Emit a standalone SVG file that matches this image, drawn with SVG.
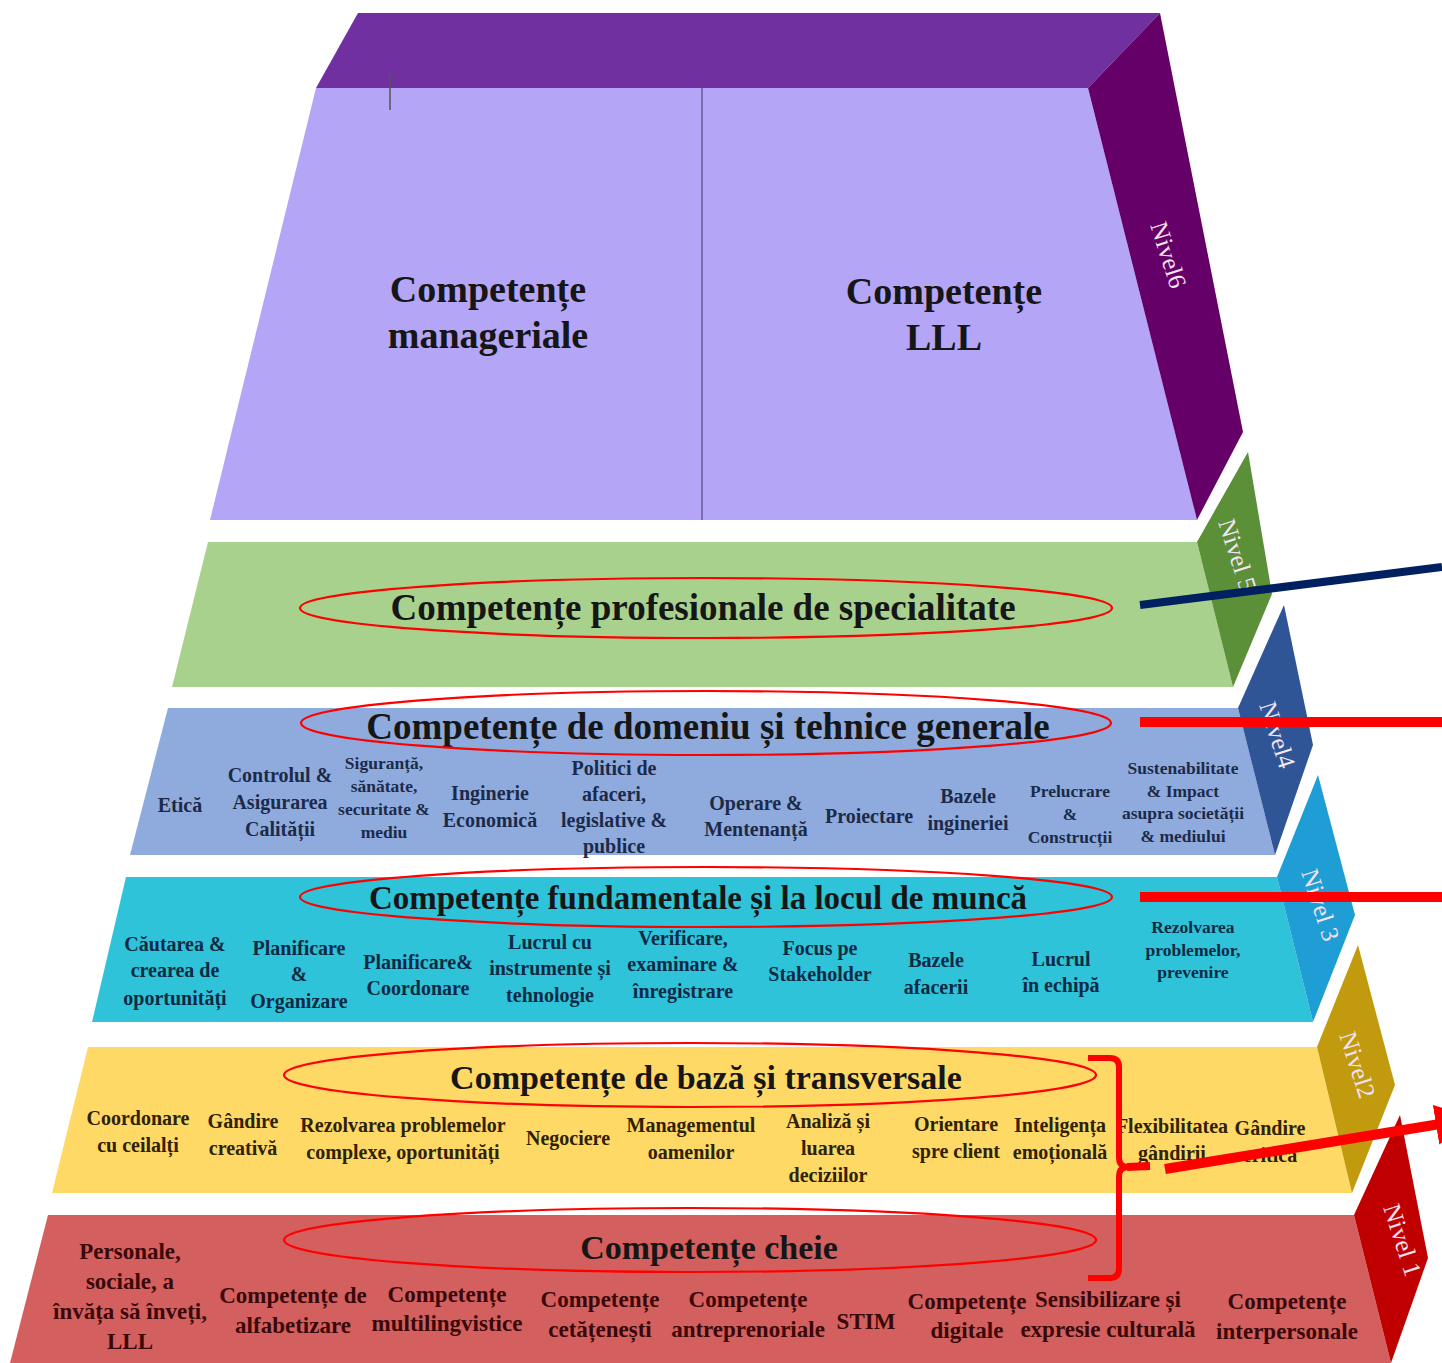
<svg xmlns="http://www.w3.org/2000/svg" width="1442" height="1363" viewBox="0 0 1442 1363">
<style>
text{font-family:"Liberation Serif","Times New Roman",serif;font-weight:bold;text-anchor:middle}
.t{fill:#161616}
.big{font-size:38px;fill:#161616}
.i{font-size:20px}
.s{font-size:17.5px}
.k{font-size:23px}
.n4{fill:#1c2a4a}
.n3{fill:#0d2a44}
.n2{fill:#2e2200}
.n1{fill:#3a0808}
.lv{font-family:"Liberation Serif",serif;font-weight:normal;font-size:25px;fill:#f3e3f3}
.ell{fill:none;stroke:#ff0000;stroke-width:2.2}
.red{stroke:#ff0000;stroke-width:10;fill:none}
</style>
<defs>
<marker id="ah" markerUnits="userSpaceOnUse" markerWidth="50" markerHeight="50" refX="4" refY="20" orient="auto">
<path d="M0,0 L40,20 L0,40 Z" fill="#ff0000"/>
</marker>
</defs>
<rect width="1442" height="1363" fill="#ffffff"/>

<g id="level6">
<polygon points="316,88 358,13 1160,13 1088,88" fill="#7030a0"/>
<polygon points="316,88 1088,88 1197,520 210,520" fill="#b4a5f6"/>
<polygon points="1088,88 1160,13 1243,432 1197,520" fill="#650068"/>
<line x1="702" y1="88" x2="702" y2="520" stroke="#6b5a99" stroke-width="1.5"/>
<line x1="390" y1="73" x2="390" y2="110" stroke="#555" stroke-width="1.5"/>
<text class="big" x="488" y="302">Competențe</text>
<text class="big" x="488" y="348">manageriale</text>
<text class="big" x="944" y="304">Competențe</text>
<text class="big" x="944" y="350">LLL</text>
<text class="lv" transform="translate(1168,255) rotate(72)" dy="8">Nivel6</text>
</g>

<g id="level5">
<polygon points="208,542 1197,542 1233,687 172,687" fill="#a9d18e"/>
<polygon points="1197,542 1248,452 1272,594 1233,687" fill="#5b8f38"/>
<text class="t" x="703" y="620" font-size="37">Competențe profesionale de specialitate</text>
<ellipse class="ell" cx="706" cy="608" rx="406" ry="30"/>
<text class="lv" transform="translate(1237,555) rotate(72)" dy="8">Nivel 5</text>
</g>

<g id="level4">
<polygon points="168,708 1238,708 1275,855 130,855" fill="#8faadc"/>
<polygon points="1238,708 1284,605 1313,745 1275,855" fill="#2f5597"/>
<text class="t" x="708" y="739" font-size="37">Competențe de domeniu și tehnice generale</text>
<ellipse class="ell" cx="706" cy="723" rx="405" ry="32"/>
<text class="lv" transform="translate(1277,735) rotate(72)" dy="8">Nivel4</text>
<text class="i n4" x="180" y="812">Etică</text>
<text class="i n4" x="280" y="782">Controlul &amp;</text>
<text class="i n4" x="280" y="809">Asigurarea</text>
<text class="i n4" x="280" y="836">Calității</text>
<text class="s n4" x="384" y="769">Siguranță,</text>
<text class="s n4" x="384" y="792">sănătate,</text>
<text class="s n4" x="384" y="815">securitate &amp;</text>
<text class="s n4" x="384" y="838">mediu</text>
<text class="i n4" x="490" y="800">Inginerie</text>
<text class="i n4" x="490" y="827">Economică</text>
<text class="i n4" x="614" y="775">Politici de</text>
<text class="i n4" x="614" y="801">afaceri,</text>
<text class="i n4" x="614" y="827">legislative &amp;</text>
<text class="i n4" x="614" y="853">publice</text>
<text class="i n4" x="756" y="810">Operare &amp;</text>
<text class="i n4" x="756" y="836">Mentenanță</text>
<text class="i n4" x="869" y="823">Proiectare</text>
<text class="i n4" x="968" y="803">Bazele</text>
<text class="i n4" x="968" y="830">ingineriei</text>
<text class="s n4" x="1070" y="797">Prelucrare</text>
<text class="s n4" x="1070" y="820">&amp;</text>
<text class="s n4" x="1070" y="843">Construcții</text>
<text class="s n4" x="1183" y="774">Sustenabilitate</text>
<text class="s n4" x="1183" y="797">&amp; Impact</text>
<text class="s n4" x="1183" y="819">asupra societății</text>
<text class="s n4" x="1183" y="842">&amp; mediului</text>
</g>

<g id="level3">
<polygon points="126,877 1277,877 1313,1022 92,1022" fill="#2ec3d9"/>
<polygon points="1277,877 1318,775 1355,915 1313,1022" fill="#1e9ed4"/>
<text class="t" x="698" y="909" font-size="33">Competențe fundamentale și la locul de muncă</text>
<ellipse class="ell" cx="706" cy="897" rx="406" ry="30"/>
<text class="lv" transform="translate(1320,905) rotate(72)" dy="8">Nivel 3</text>
<text class="i n3" x="175" y="951">Căutarea &amp;</text>
<text class="i n3" x="175" y="977">crearea de</text>
<text class="i n3" x="175" y="1005">oportunități</text>
<text class="i n3" x="299" y="955">Planificare</text>
<text class="i n3" x="299" y="981">&amp;</text>
<text class="i n3" x="299" y="1008">Organizare</text>
<text class="i n3" x="418" y="969">Planificare&amp;</text>
<text class="i n3" x="418" y="995">Coordonare</text>
<text class="i n3" x="550" y="949">Lucrul cu</text>
<text class="i n3" x="550" y="975">instrumente și</text>
<text class="i n3" x="550" y="1002">tehnologie</text>
<text class="i n3" x="683" y="945">Verificare,</text>
<text class="i n3" x="683" y="971">examinare &amp;</text>
<text class="i n3" x="683" y="998">înregistrare</text>
<text class="i n3" x="820" y="955">Focus pe</text>
<text class="i n3" x="820" y="981">Stakeholder</text>
<text class="i n3" x="936" y="967">Bazele</text>
<text class="i n3" x="936" y="994">afacerii</text>
<text class="i n3" x="1061" y="966">Lucrul</text>
<text class="i n3" x="1061" y="992">în echipă</text>
<text class="s n3" x="1193" y="933">Rezolvarea</text>
<text class="s n3" x="1193" y="956">problemelor,</text>
<text class="s n3" x="1193" y="978">prevenire</text>
</g>

<g id="level2">
<polygon points="88,1047 1317,1047 1352,1193 52,1193" fill="#ffd966"/>
<polygon points="1317,1047 1358,945 1395,1085 1352,1193" fill="#c29a0e"/>
<text class="t" x="706" y="1089" font-size="34">Competențe de bază și transversale</text>
<ellipse class="ell" cx="690" cy="1075" rx="406" ry="32"/>
<text class="lv" transform="translate(1357,1065) rotate(72)" dy="8">Nivel2</text>
<text class="i n2" x="138" y="1125">Coordonare</text>
<text class="i n2" x="138" y="1152">cu ceilalți</text>
<text class="i n2" x="243" y="1128">Gândire</text>
<text class="i n2" x="243" y="1155">creativă</text>
<text class="i n2" x="403" y="1132">Rezolvarea problemelor</text>
<text class="i n2" x="403" y="1159">complexe, oportunități</text>
<text class="i n2" x="568" y="1145">Negociere</text>
<text class="i n2" x="691" y="1132">Managementul</text>
<text class="i n2" x="691" y="1159">oamenilor</text>
<text class="i n2" x="828" y="1128">Analiză și</text>
<text class="i n2" x="828" y="1155">luarea</text>
<text class="i n2" x="828" y="1182">deciziilor</text>
<text class="i n2" x="956" y="1131">Orientare</text>
<text class="i n2" x="956" y="1158">spre client</text>
<text class="i n2" x="1060" y="1132">Inteligența</text>
<text class="i n2" x="1060" y="1159">emoțională</text>
<text class="i n2" x="1172" y="1133">Flexibilitatea</text>
<text class="i n2" x="1172" y="1160">gândirii</text>
<text class="i n2" x="1270" y="1135">Gândire</text>
<text class="i n2" x="1270" y="1162">critică</text>
</g>

<g id="level1">
<polygon points="48,1215 1354,1215 1391,1363 10,1363" fill="#d35f5f"/>
<polygon points="1354,1215 1400,1115 1428,1258 1391,1363" fill="#c00000"/>
<text class="t" x="709" y="1259" font-size="34">Competențe cheie</text>
<ellipse class="ell" cx="690" cy="1240" rx="406" ry="32"/>
<text class="lv" transform="translate(1402,1240) rotate(72)" dy="8">Nivel 1</text>
<text class="k n1" x="130" y="1259">Personale,</text>
<text class="k n1" x="130" y="1289">sociale, a</text>
<text class="k n1" x="130" y="1319">învăța să înveți,</text>
<text class="k n1" x="130" y="1349">LLL</text>
<text class="k n1" x="293" y="1303">Competențe de</text>
<text class="k n1" x="293" y="1333">alfabetizare</text>
<text class="k n1" x="447" y="1302">Competențe</text>
<text class="k n1" x="447" y="1331">multilingvistice</text>
<text class="k n1" x="600" y="1307">Competențe</text>
<text class="k n1" x="600" y="1337">cetățenești</text>
<text class="k n1" x="748" y="1307">Competențe</text>
<text class="k n1" x="748" y="1337">antreprenoriale</text>
<text class="k n1" x="866" y="1329">STIM</text>
<text class="k n1" x="967" y="1309">Competențe</text>
<text class="k n1" x="967" y="1338">digitale</text>
<text class="k n1" x="1108" y="1307">Sensibilizare și</text>
<text class="k n1" x="1108" y="1337">expresie culturală</text>
<text class="k n1" x="1287" y="1309">Competențe</text>
<text class="k n1" x="1287" y="1339">interpersonale</text>
</g>

<g id="connectors">
<line x1="1140" y1="605" x2="1442" y2="567" stroke="#002060" stroke-width="8"/>
<line class="red" x1="1140" y1="722" x2="1442" y2="722"/>
<line class="red" x1="1140" y1="897" x2="1442" y2="897"/>
<path d="M1088,1058 L1110,1058 Q1119,1058 1119,1067 L1119,1158 Q1119,1166 1127,1167 Q1119,1168 1119,1176 L1119,1268 Q1119,1278 1110,1278 L1088,1278" fill="none" stroke="#ff0000" stroke-width="6"/>
<line x1="1127" y1="1167" x2="1150" y2="1166" stroke="#ff0000" stroke-width="8"/>
<line class="red" x1="1165" y1="1169" x2="1440" y2="1124" marker-end="url(#ah)"/>
</g>
</svg>
